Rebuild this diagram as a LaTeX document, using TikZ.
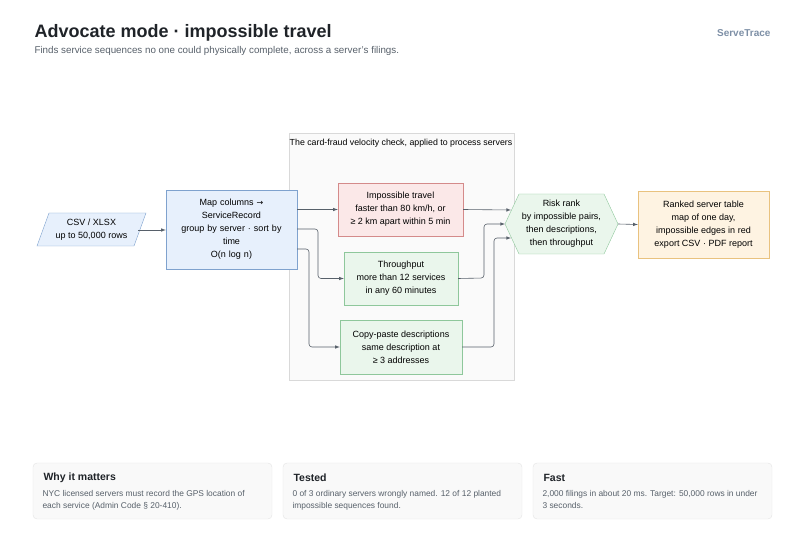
\documentclass[tikz,border=0pt]{standalone}
\usepackage{fontspec}
\setmainfont{Liberation Sans}
\usepackage[rgb]{xcolor}
\usetikzlibrary{shapes.geometric,positioning}
\definecolor{inkgray}{HTML}{1F2328}
\definecolor{subgray}{HTML}{57606A}
\definecolor{brandblue}{HTML}{7D8FA6}
\definecolor{lineg}{HTML}{57606A}
\definecolor{bluefill}{HTML}{E7F0FC}
\definecolor{bluedraw}{HTML}{7FA2CE}
\definecolor{redfill}{HTML}{FBE8E8}
\definecolor{reddraw}{HTML}{D48A8A}
\definecolor{greenfill}{HTML}{EAF6EC}
\definecolor{greendraw}{HTML}{8EC79B}
\definecolor{orangefill}{HTML}{FEF3E2}
\definecolor{orangedraw}{HTML}{E9C27F}
\tikzset{
  box/.style={draw, rectangle, align=center, font=\fontsize{9}{13}\selectfont, inner sep=2pt},
  bluebox/.style={box, fill=bluefill, draw=bluedraw},
  redbox/.style={box, fill=redfill, draw=reddraw},
  greenbox/.style={box, fill=greenfill, draw=greendraw},
  txt/.style={align=center, font=\fontsize{9}{13}\selectfont},
  card/.style={draw=gray!22, fill=gray!5, rounded corners=4pt},
  flow/.style={draw=lineg, -latex, line width=0.6pt},
}
\begin{document}
\begin{tikzpicture}[x=1pt, y=-1pt]
\useasboundingbox (0,0) rectangle (806,537);

% Header
\node[anchor=west, font=\bfseries\fontsize{18}{22}\selectfont, text=inkgray] (title) at (31,33) {Advocate mode · impossible travel};
\node[anchor=west, font=\fontsize{9.8}{12}\selectfont, text=subgray] (subtitle) at (31,51) {Finds service sequences no one could physically complete, across a server's filings.};
\node[anchor=east, font=\bfseries\fontsize{10}{12}\selectfont, text=brandblue] (brand) at (774,33) {ServeTrace};

% Velocity-check group
\filldraw[fill=gray!4, draw=gray!30] (289,133) rectangle (514,380);
\node[font=\fontsize{8.8}{11}\selectfont] (grouplabel) at (401,143) {The card-fraud velocity check, applied to process servers};

% Nodes
\filldraw[fill=bluefill, draw=bluedraw] (49,213) -- (146,213) -- (134,246) -- (37,246) -- cycle;
\node[txt] (csv) at (91.5,229.5) {CSV / XLSX\\up to 50,000 rows};
\coordinate (csve) at (138,230);
\node[bluebox, minimum width=131pt, minimum height=79pt, text width=125pt] (mapcols) at (231.5,229.5)
  {Map columns {\fontspec{DejaVu Sans}\fontsize{8}{13}\selectfont →}\\ServiceRecord\\group by server · sort by\\time\\O(n log n)};
\node[redbox, minimum width=125pt, minimum height=53pt] (travel) at (400.5,209.5)
  {Impossible travel\\faster than 80 km/h, or\\≥ 2 km apart within 5 min};
\node[greenbox, minimum width=114pt, minimum height=53pt] (through) at (401,278.5)
  {Throughput\\more than 12 services\\in any 60 minutes};
\node[greenbox, minimum width=122pt, minimum height=54pt] (copy) at (401,347)
  {Copy-paste descriptions\\same description at\\≥ 3 addresses};
\filldraw[fill=greenfill, draw=greendraw] (505,224) -- (519,194) -- (604,194) -- (618,224) -- (604,254) -- (519,254) -- cycle;
\node[txt] (risk) at (561.5,224) {Risk rank\\by impossible pairs,\\then descriptions,\\then throughput};
\node[box, fill=orangefill, draw=orangedraw, minimum width=131pt, minimum height=67pt] (report) at (703.5,224.5)
  {Ranked server table\\map of one day,\\impossible edges in red\\export CSV · PDF report};

% Connectors
\coordinate (hexw) at (505,224);
\coordinate (hexe) at (618,224);
\draw[flow] (csve) -- (mapcols.west |- csve);
\draw[flow] (mapcols.east |- travel.west) -- (travel.west);
\draw[flow, rounded corners=3pt] (297,229) -- (318,229) |- (through.west);
\draw[flow, rounded corners=3pt] (297,249) -- (309,249) |- (copy.west);
\draw[flow] (travel.east) -- (511,210);
\draw[flow, rounded corners=3pt] (through.east) -- (484,278) |- (hexw);
\draw[flow, rounded corners=3pt] (copy.east) -- (494,347) |- (511,238);
\draw[flow] (hexe) -- (report.west);

% Cards
\foreach \x/\name in {33/why, 283/tested, 533/fast}
  \draw[card] (\x,463) rectangle ++(239,56);
\node[anchor=west, font=\bfseries\fontsize{10.5}{13}\selectfont, text=inkgray] (whyt) at (40,478) {Why it matters};
\node[anchor=north west, align=left, font=\fontsize{8.4}{12}\selectfont, text=subgray] (whyb) at (39,487)
  {NYC licensed servers must record the GPS location of\\each service (Admin Code § 20-410).};
\node[anchor=west, font=\bfseries\fontsize{10.5}{13}\selectfont, text=inkgray] (testedt) at (290,478) {Tested};
\node[anchor=north west, align=left, font=\fontsize{8.4}{12}\selectfont, text=subgray] (testedb) at (289,487)
  {0 of 3 ordinary servers wrongly named. 12 of 12 planted\\impossible sequences found.};
\node[anchor=west, font=\bfseries\fontsize{10.5}{13}\selectfont, text=inkgray] (fastt) at (540,478) {Fast};
\node[anchor=north west, align=left, font=\fontsize{8.4}{12}\selectfont, text=subgray] (fastb) at (539,487)
  {2,000 filings in about 20 ms. Target: 50,000 rows in under\\3 seconds.};

\end{tikzpicture}
\end{document}
